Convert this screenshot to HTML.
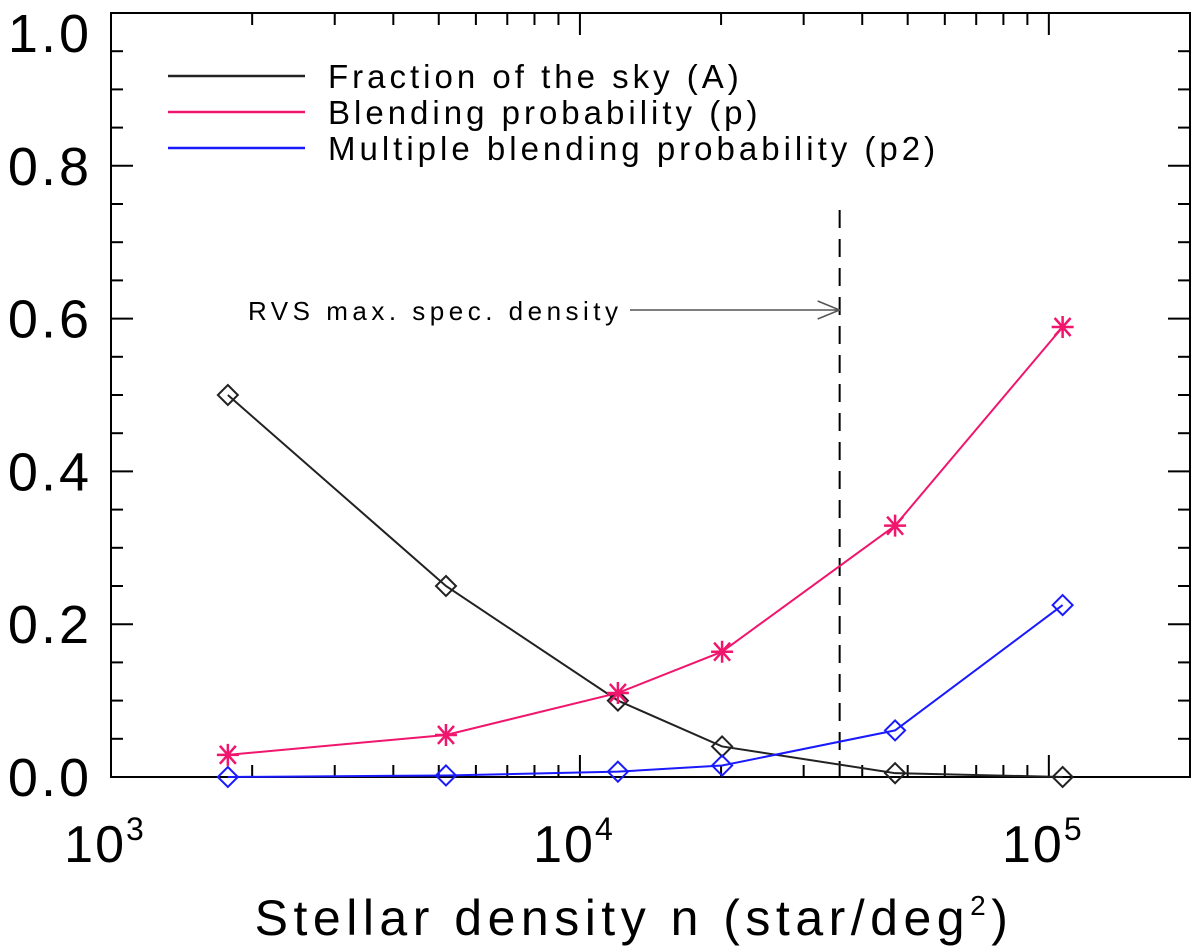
<!DOCTYPE html>
<html><head><meta charset="utf-8"><style>
html,body{margin:0;padding:0;background:#fff;}
svg{display:block;font-family:"Liberation Sans",sans-serif;}
</style></head><body>
<svg id="chart" width="1200" height="951" viewBox="0 0 1200 951">
<g id="axes"></g><g id="series"></g><g id="legend"></g>
</svg>
<script>
const xValues=[1775,5180,12050,20100,47000,107000];
const seriesA=[0.5,0.25,0.1,0.04,0.005,0.0];
const seriesP=[0.029,0.055,0.11,0.164,0.329,0.589];
const seriesP2=[0.0,0.002,0.007,0.015,0.061,0.225];
const yTickLabels=["0.0","0.2","0.4","0.6","0.8","1.0"];
const xDecades=[3,4,5];
const rvsLimit=35800;

const NS="http://www.w3.org/2000/svg";
const L=111,R=1190,T=13,B=777;
const xMin=3,xMax=Math.log10(2e5);
function sx(v){return L+(Math.log10(v)-xMin)/(xMax-xMin)*(R-L);}
function sy(v){return B-v*(B-T);}
function mk(tag,attrs,parent,text){const e=document.createElementNS(NS,tag);for(const k in attrs)e.setAttribute(k,attrs[k]);if(text!==undefined)e.textContent=text;parent.appendChild(e);return e;}
const axes=document.getElementById('axes'),ser=document.getElementById('series'),leg=document.getElementById('legend');

const frame=mk('rect',{x:L,y:T,width:R-L,height:B-T,fill:'none',stroke:'#000','stroke-width':2},axes);


for(let i=0;i<=20;i++){const v=i*0.05,y=sy(v),len=(i%4===0)?22:12;
 mk('line',{x1:L,y1:y,x2:L+len,y2:y,stroke:'#000','stroke-width':2},axes);
 mk('line',{x1:R,y1:y,x2:R-len,y2:y,stroke:'#000','stroke-width':2},axes);}
yTickLabels.forEach((t,i)=>{let y=sy(i*0.2)+19; if(i===5) y=52;
 const el=mk('text',{x:92,y:y,'text-anchor':'end','font-size':54,'letter-spacing':3},axes,t);
 
 });
for(let d=3;d<=5;d++){for(let m=1;m<=9;m++){const v=m*Math.pow(10,d);if(v>2e5)break;const x=sx(v),len=m===1?22:12;
 mk('line',{x1:x,y1:B,x2:x,y2:B-len,stroke:'#000','stroke-width':2},axes);
 mk('line',{x1:x,y1:T,x2:x,y2:T+len,stroke:'#000','stroke-width':2},axes);}}
xDecades.forEach(d=>{const x=sx(Math.pow(10,d));const el=mk('text',{x:x-6,y:862,'text-anchor':'middle','font-size':52,'letter-spacing':2},axes);
 
 
 mk('tspan',{},el,'10');mk('tspan',{dy:-22,'font-size':32},el,String(d));});
const xt=mk('text',{x:634,y:935,'text-anchor':'middle','font-size':50,'letter-spacing':5.5},axes);


mk('tspan',{},xt,'Stellar density n (star/deg');mk('tspan',{dy:-20,'font-size':28},xt,'2');mk('tspan',{dy:20},xt,')');

const rx=sx(rvsLimit);
const dl=mk('line',{x1:rx,y1:210,x2:rx,y2:B,stroke:'#000','stroke-width':2,'stroke-dasharray':'18,11'},ser);


const ar=mk('path',{d:`M630 310 L${rx} 310 M${rx-22} 301 L${rx} 310 L${rx-22} 319`,fill:'none',stroke:'#555','stroke-width':1.5},ser);


const rt=mk('text',{x:248,y:320,'font-size':26,'letter-spacing':4.5},ser,'RVS max. spec. density');



function drawSeries(vals,color,marker,name){
 const pts=vals.map((v,i)=>[sx(xValues[i]),sy(v)]);
 const pl=mk('polyline',{points:pts.map(p=>p.join(',')).join(' '),fill:'none',stroke:color,'stroke-width':2},ser);
 
 
 pts.forEach(([x,y])=>{let m;
  if(marker==='d'){m=mk('path',{d:`M${x} ${y-10} L${x+10} ${y} L${x} ${y+10} L${x-10} ${y} Z`,fill:'none',stroke:color,'stroke-width':2},ser);}
  else{m=mk('path',{d:`M${x-11} ${y} L${x+11} ${y} M${x-8} ${y-9} L${x+8} ${y+9} M${x-8} ${y+9} L${x+8} ${y-9} M${x} ${y-11} L${x} ${y+11}`,fill:'none',stroke:color,'stroke-width':2.5},ser);}
  
  });
}
drawSeries(seriesA,'#222','d','fraction-sky');
drawSeries(seriesP,'#f0166e','s','blending-prob');
drawSeries(seriesP2,'#1a1aff','d','multiple-blending-prob');

const legItems=[['Fraction of the sky (A)','#222'],['Blending probability (p)','#f0166e'],['Multiple blending probability (p2)','#1a1aff']];
legItems.forEach(([t,c],i)=>{const y=76+i*36;
 const g=mk('g',{},leg);
 
 
 mk('line',{x1:168,y1:y,x2:305,y2:y,stroke:c,'stroke-width':2.5},g);
 mk('text',{x:328,y:y+12,'font-size':33,'letter-spacing':4},g,t);});
</script>
</body></html>
